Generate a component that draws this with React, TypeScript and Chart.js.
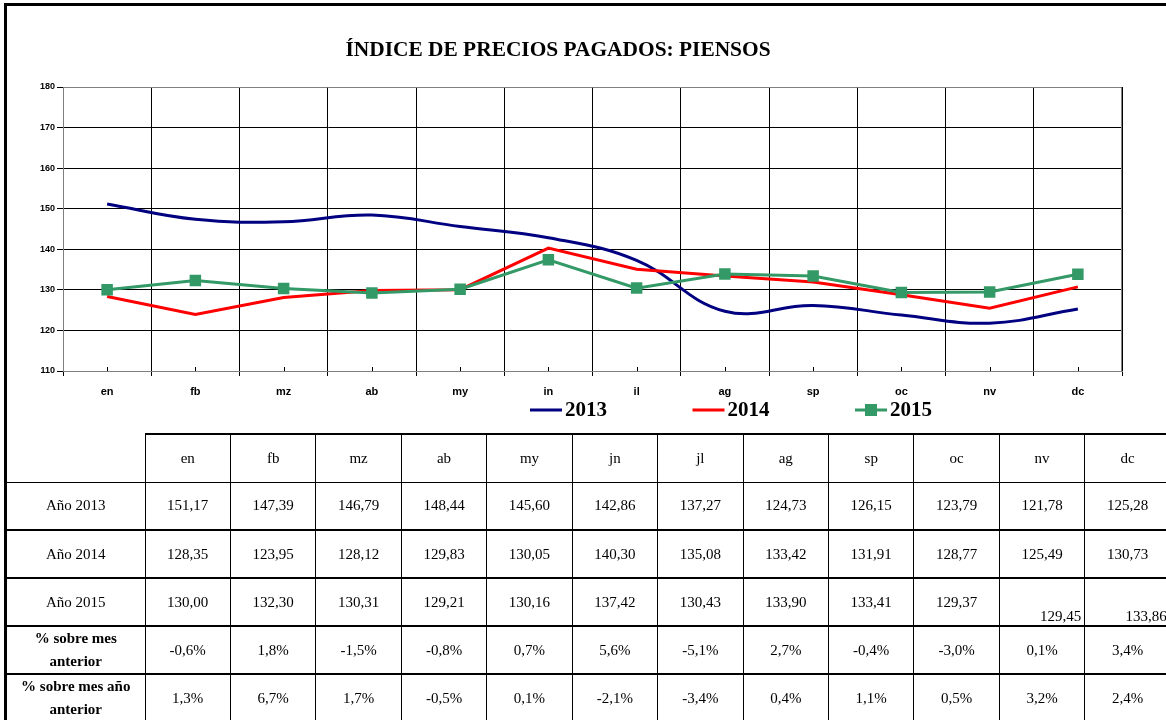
import React, { useEffect, useRef } from "react";
import { Chart, registerables } from "chart.js";

Chart.register(...registerables);

const chartTitle = "ÍNDICE DE PRECIOS PAGADOS: PIENSOS";
const axisMonths = ["en", "fb", "mz", "ab", "my", "in", "il", "ag", "sp", "oc", "nv", "dc"];
const tableMonths = ["en", "fb", "mz", "ab", "my", "jn", "jl", "ag", "sp", "oc", "nv", "dc"];
const values2013 = [151.17, 147.39, 146.79, 148.44, 145.6, 142.86, 137.27, 124.73, 126.15, 123.79, 121.78, 125.28];
const values2014 = [128.35, 123.95, 128.12, 129.83, 130.05, 140.3, 135.08, 133.42, 131.91, 128.77, 125.49, 130.73];
const values2015 = [130.0, 132.3, 130.31, 129.21, 130.16, 137.42, 130.43, 133.9, 133.41, 129.37, 129.45, 133.86];
const pctPrevMonth = ["-0,6%", "1,8%", "-1,5%", "-0,8%", "0,7%", "5,6%", "-5,1%", "2,7%", "-0,4%", "-3,0%", "0,1%", "3,4%"];
const pctPrevYear = ["1,3%", "6,7%", "1,7%", "-0,5%", "0,1%", "-2,1%", "-3,4%", "0,4%", "1,1%", "0,5%", "3,2%", "2,4%"];
const yMin = 110;
const yMax = 180;
const yStep = 10;

const fmt = (v: number) => v.toFixed(2).replace(".", ",");

const SERIF = '"Liberation Serif", "Times New Roman", serif';
const SANS = '"Liberation Sans", Arial, sans-serif';

const decorPlugin = {
  id: "decor",
  afterDraw(chart: any) {
    const ctx = chart.ctx;
    const area = chart.chartArea;
    const xs = chart.scales.x;
    ctx.save();
    // plot border top/right
    ctx.strokeStyle = "#808080";
    ctx.lineWidth = 1;
    ctx.beginPath();
    ctx.moveTo(area.left, area.top + 0.5);
    ctx.lineTo(area.right - 0.5, area.top + 0.5);
    ctx.lineTo(area.right - 0.5, area.bottom);
    ctx.stroke();
    // small category-center ticks
    ctx.strokeStyle = "#000";
    for (let i = 0; i < chart.data.labels.length; i++) {
      const px = Math.round(xs.getPixelForValue(i)) + 0.5;
      ctx.beginPath();
      ctx.moveTo(px, area.bottom - 4);
      ctx.lineTo(px, area.bottom);
      ctx.stroke();
    }
    // the category label band is cut off just under the baseline in the original
    ctx.fillStyle = "#fff";
    ctx.fillRect(area.left - 10, 398, area.right - area.left + 20, 4);
    // title
    ctx.fillStyle = "#000";
    ctx.font = `bold 21.4px ${SERIF}`;
    ctx.textAlign = "center";
    ctx.textBaseline = "middle";
    ctx.fillText(chartTitle, 558, 50);
    // legend
    const y = 410;
    chart.data.datasets.forEach((ds: any, i: number) => {
      const x0 = 530 + i * 162.5;
      ctx.strokeStyle = ds.borderColor;
      ctx.lineWidth = 3;
      ctx.beginPath();
      ctx.moveTo(x0, y);
      ctx.lineTo(x0 + 32, y);
      ctx.stroke();
      if (ds.pointRadius > 0) {
        ctx.fillStyle = ds.pointBackgroundColor;
        ctx.fillRect(x0 + 16 - 6, y - 6, 12, 12);
      }
      ctx.fillStyle = "#000";
      ctx.font = `bold 21px ${SERIF}`;
      ctx.textAlign = "left";
      ctx.textBaseline = "middle";
      ctx.fillText(ds.label, x0 + 35, y + 1);
    });
    ctx.restore();
  },
};

function ChartCanvas() {
  const ref = useRef<HTMLCanvasElement | null>(null);
  useEffect(() => {
    if (!ref.current) return;
    const chart = new Chart(ref.current, {
      type: "line",
      data: {
        labels: axisMonths,
        datasets: [
          {
            label: "2013",
            data: values2013,
            borderColor: "#000080",
            backgroundColor: "#000080",
            borderWidth: 3,
            tension: 0.4,
            pointRadius: 0,
            order: 3,
          },
          {
            label: "2014",
            data: values2014,
            borderColor: "#FF0000",
            backgroundColor: "#FF0000",
            borderWidth: 3,
            tension: 0,
            pointRadius: 0,
            order: 2,
          },
          {
            label: "2015",
            data: values2015,
            borderColor: "#339966",
            backgroundColor: "#339966",
            pointBackgroundColor: "#339966",
            pointBorderColor: "#339966",
            borderWidth: 3,
            tension: 0,
            pointStyle: "rect",
            pointRadius: 6,
            order: 1,
          },
        ],
      },
      options: {
        responsive: false,
        animation: false,
        devicePixelRatio: 1,
        layout: { padding: { top: 87, right: 44, left: 0, bottom: 0 } },
        plugins: {
          legend: { display: false },
          title: { display: false },
          tooltip: { enabled: false },
        },
        scales: {
          x: {
            offset: true,
            grid: {
              offset: true,
              color: "#000",
              lineWidth: 1,
              tickLength: 5,
              drawTicks: true,
            },
            border: { color: "#808080", width: 1 },
            ticks: {
              color: "#000",
              padding: 9,
              font: { family: SANS, size: 11, weight: "bold" },
              maxRotation: 0,
              autoSkip: false,
            },
            afterFit: (s: any) => {
              s.height = 61;
            },
          },
          y: {
            min: yMin,
            max: yMax,
            ticks: {
              stepSize: yStep,
              color: "#000",
              padding: 2,
              font: { family: SANS, size: 9, weight: "bold" },
            },
            grid: { color: "#000", lineWidth: 1, tickLength: 6 },
            border: { color: "#808080", width: 1 },
            afterFit: (s: any) => {
              s.width = 63;
            },
          },
        },
      },
      plugins: [decorPlugin],
    });
    return () => chart.destroy();
  }, []);
  return <canvas ref={ref} width={1166} height={432} style={{ position: "absolute", left: 0, top: 0 }} />;
}

const cellBase: React.CSSProperties = {
  border: "1px solid #000",
  textAlign: "center",
  verticalAlign: "middle",
  padding: 0,
  fontFamily: SERIF,
  fontSize: 15,
  color: "#000",
};

export default function App() {
  useEffect(() => {
    document.body.style.margin = "0";
  }, []);
  const rows: { label: React.ReactNode; bold: boolean; cells: string[] }[] = [
    { label: "Año 2013", bold: false, cells: values2013.map(fmt) },
    { label: "Año 2014", bold: false, cells: values2014.map(fmt) },
    { label: "Año 2015", bold: false, cells: values2015.map(fmt) },
    { label: <>% sobre mes<br />anterior</>, bold: true, cells: pctPrevMonth },
    { label: <>% sobre mes año<br />anterior</>, bold: true, cells: pctPrevYear },
  ];
  const colW = 85.45;
  return (
    <div style={{ position: "relative", width: 1166, height: 720, overflow: "hidden", background: "#fff" }}>
      <ChartCanvas />
      <div
        style={{
          position: "absolute",
          left: 4,
          top: 3,
          width: 1300,
          height: 900,
          borderLeft: "3px solid #000",
          borderTop: "3px solid #000",
          pointerEvents: "none",
        }}
      />
      <table
        style={{
          position: "absolute",
          left: 7,
          top: 433,
          borderCollapse: "collapse",
          tableLayout: "fixed",
          width: 138 + colW * 12,
        }}
      >
        <colgroup>
          <col style={{ width: 138 }} />
          {tableMonths.map((m) => (
            <col key={m} style={{ width: colW }} />
          ))}
        </colgroup>
        <tbody>
          <tr style={{ height: 48 }}>
            <td style={{ ...cellBase, borderTop: "none", borderLeft: "none" }}></td>
            {tableMonths.map((m) => (
              <td key={m} style={{ ...cellBase, borderTop: "2px solid #000" }}>
                {m}
              </td>
            ))}
          </tr>
          {rows.map((r, ri) => (
            <tr key={ri} style={{ height: ri < 3 ? 48 : 47 }}>
              <td
                style={{
                  ...cellBase,
                  borderLeft: "none",
                  fontWeight: r.bold ? "bold" : "normal",
                  lineHeight: r.bold ? "23px" : "normal",
                  borderTopWidth: ri === 0 ? 1 : 2,
                }}
              >
                {r.label}
              </td>
              {r.cells.map((c, ci) => {
                const odd = ri === 2 && ci >= 10;
                return (
                  <td
                    key={ci}
                    style={{
                      ...cellBase,
                      borderTopWidth: ri === 0 ? 1 : 2,
                      textAlign: odd ? "right" : "center",
                      verticalAlign: odd ? "bottom" : "middle",
                      paddingRight: odd ? 3 : 0,
                    }}
                  >
                    {c}
                  </td>
                );
              })}
            </tr>
          ))}
        </tbody>
      </table>
    </div>
  );
}
